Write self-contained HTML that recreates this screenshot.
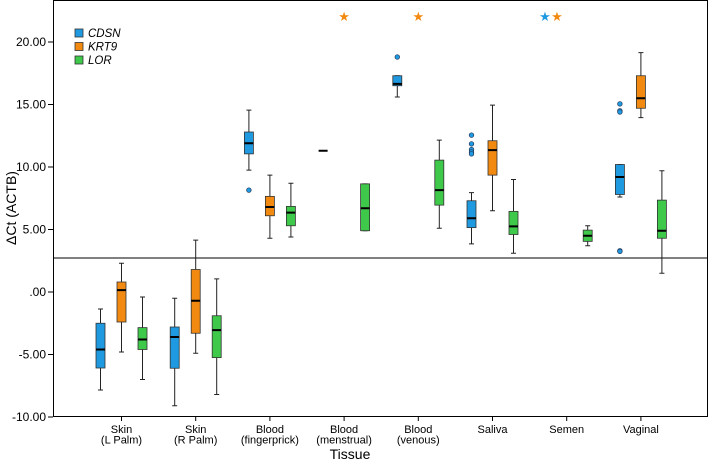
<!DOCTYPE html>
<html><head><meta charset="utf-8"><style>
body{margin:0;background:#fff;}
svg{display:block;font-family:"Liberation Sans",sans-serif;}
</style></head><body>
<svg id="c" width="709" height="460"></svg>
<script>
const categories=["Skin|(L Palm)","Skin|(R Palm)","Blood|(fingerprick)","Blood|(menstrual)","Blood|(venous)","Saliva","Semen","Vaginal"];
const genes=["CDSN","KRT9","LOR"];
const colors=["#1f9ae0","#f28a12","#3ec94a"];
const cdsn=[[-7.84,-6.08,-4.6,-2.5,-1.36],[-9.1,-6.1,-3.6,-2.8,-0.5],[9.75,11.05,11.9,12.8,14.55],[11.3,11.3,11.3,11.3,11.3],[15.6,16.5,16.65,17.3,17.3],[3.85,5.15,5.9,7.3,7.95],"star",[7.6,7.8,9.2,10.2,10.2]];
const krt9=[[-4.8,-2.4,0.15,0.8,2.3],[-4.9,-3.3,-0.7,1.8,4.15],[4.3,6.1,6.8,7.65,9.35],"star","star",[6.5,9.35,11.35,12.1,14.95],"star",[13.95,14.7,15.5,17.3,19.15]];
const lor=[[-7.0,-4.6,-3.8,-2.85,-0.4],[-8.2,-5.25,-3.05,-1.9,1.05],[4.4,5.3,6.35,6.85,8.7],[4.9,4.9,6.7,8.65,8.65],[5.1,6.95,8.15,10.55,12.15],[3.1,4.6,5.25,6.45,9.0],[3.7,4.05,4.5,4.95,5.3],[1.5,4.3,4.9,7.35,9.7]];
const cdsnOutliers=[[],[],[8.15],[],[18.8],[12.55,11.85,11.4,11.2,11.05],[],[15.05,14.5,14.4,3.3,3.25]];
const yTicks=[20,15,10,5,0,-5,-10];
const yTickLabels=["20.00","15.00","10.00","5.00",".00","-5.00","-10.00"];
const refLine=2.72;

const NS="http://www.w3.org/2000/svg",svg=document.getElementById('c');
function el(t,a,p){const e=document.createElementNS(NS,t);for(const k in a)e.setAttribute(k,a[k]);(p||svg).appendChild(e);return e;}
const y=v=>292-12.5*v;
const xc=i=>121.5+74.2*i;
const off=[-21,0,21];
const frame=el('rect',{x:53.5,y:0.5,width:654,height:416,fill:'none',stroke:'#000','stroke-width':1});

const ref=el('line',{x1:53,x2:708,y1:y(refLine),y2:y(refLine),stroke:'#000','stroke-width':1});

yTicks.forEach((v,i)=>{
 const t=el('line',{x1:48,x2:53,y1:y(v),y2:y(v),stroke:'#000'});
 
 const tx=el('text',{x:46,y:y(v)+4,'text-anchor':'end','font-size':12,fill:'#000'});tx.textContent=yTickLabels[i];
 
});
categories.forEach((c,i)=>{
 const t=el('line',{x1:xc(i),x2:xc(i),y1:416,y2:421,stroke:'#000'});
 
 c.split('|').forEach((s,j)=>{const tx=el('text',{x:xc(i),y:433+j*10.5,'text-anchor':'middle','font-size':11,fill:'#000'});tx.textContent=s;
 });
});
const yt=el('text',{x:0,y:0,'text-anchor':'middle','font-size':14,transform:'translate(16,208) rotate(-90)'});yt.textContent='ΔCt (ACTB)';

const xt=el('text',{x:350,y:459,'text-anchor':'middle','font-size':14});xt.textContent='Tissue';

function star(cx,color){const s=el('text',{x:cx,y:21,'text-anchor':'middle','font-size':13,fill:color,'font-family':'DejaVu Sans'});s.textContent='★';
 }
[cdsn,krt9,lor].forEach((series,g)=>{
 series.forEach((d,i)=>{
  const cx=xc(i)+off[g];
  if(d==='star'){return;}
  const grp=el('g',{});
  
  const [lo,q1,md,q3,hi]=d;
  el('line',{x1:cx,x2:cx,y1:y(hi),y2:y(lo),stroke:'#222'},grp);
  el('line',{x1:cx-2.5,x2:cx+2.5,y1:y(hi),y2:y(hi),stroke:'#222'},grp);
  el('line',{x1:cx-2.5,x2:cx+2.5,y1:y(lo),y2:y(lo),stroke:'#222'},grp);
  if(q3>q1) el('rect',{x:cx-4.5,y:y(q3),width:9,height:y(q1)-y(q3),fill:colors[g],stroke:'#333','stroke-width':0.8},grp);
  el('line',{x1:cx-4.5,x2:cx+4.5,y1:y(md),y2:y(md),stroke:'#000','stroke-width':2},grp);
 });
});
[[3,1],[4,1],[6,0],[6,1]].forEach(([i,g])=>{
 let cx=g===1&&i===6?557:(g===0?545:xc(i));
 star(cx,colors[g]);
});
cdsnOutliers.forEach((arr,i)=>arr.forEach(v=>{
 const o=el('circle',{cx:xc(i)-21,cy:y(v),r:2.3,fill:'#1f9ae0',stroke:'#235',"stroke-width":0.7});
 
}));
genes.forEach((gn,g)=>{
 const gr=el('g',{});
 el('rect',{x:75,y:29+g*13.5,width:8,height:8,fill:colors[g],stroke:'#333','stroke-width':0.8},gr);
 const t=el('text',{x:88,y:37+g*13.5,'font-size':11.5,'font-style':'italic'},gr);t.textContent=gn;
});
</script>
</body></html>
